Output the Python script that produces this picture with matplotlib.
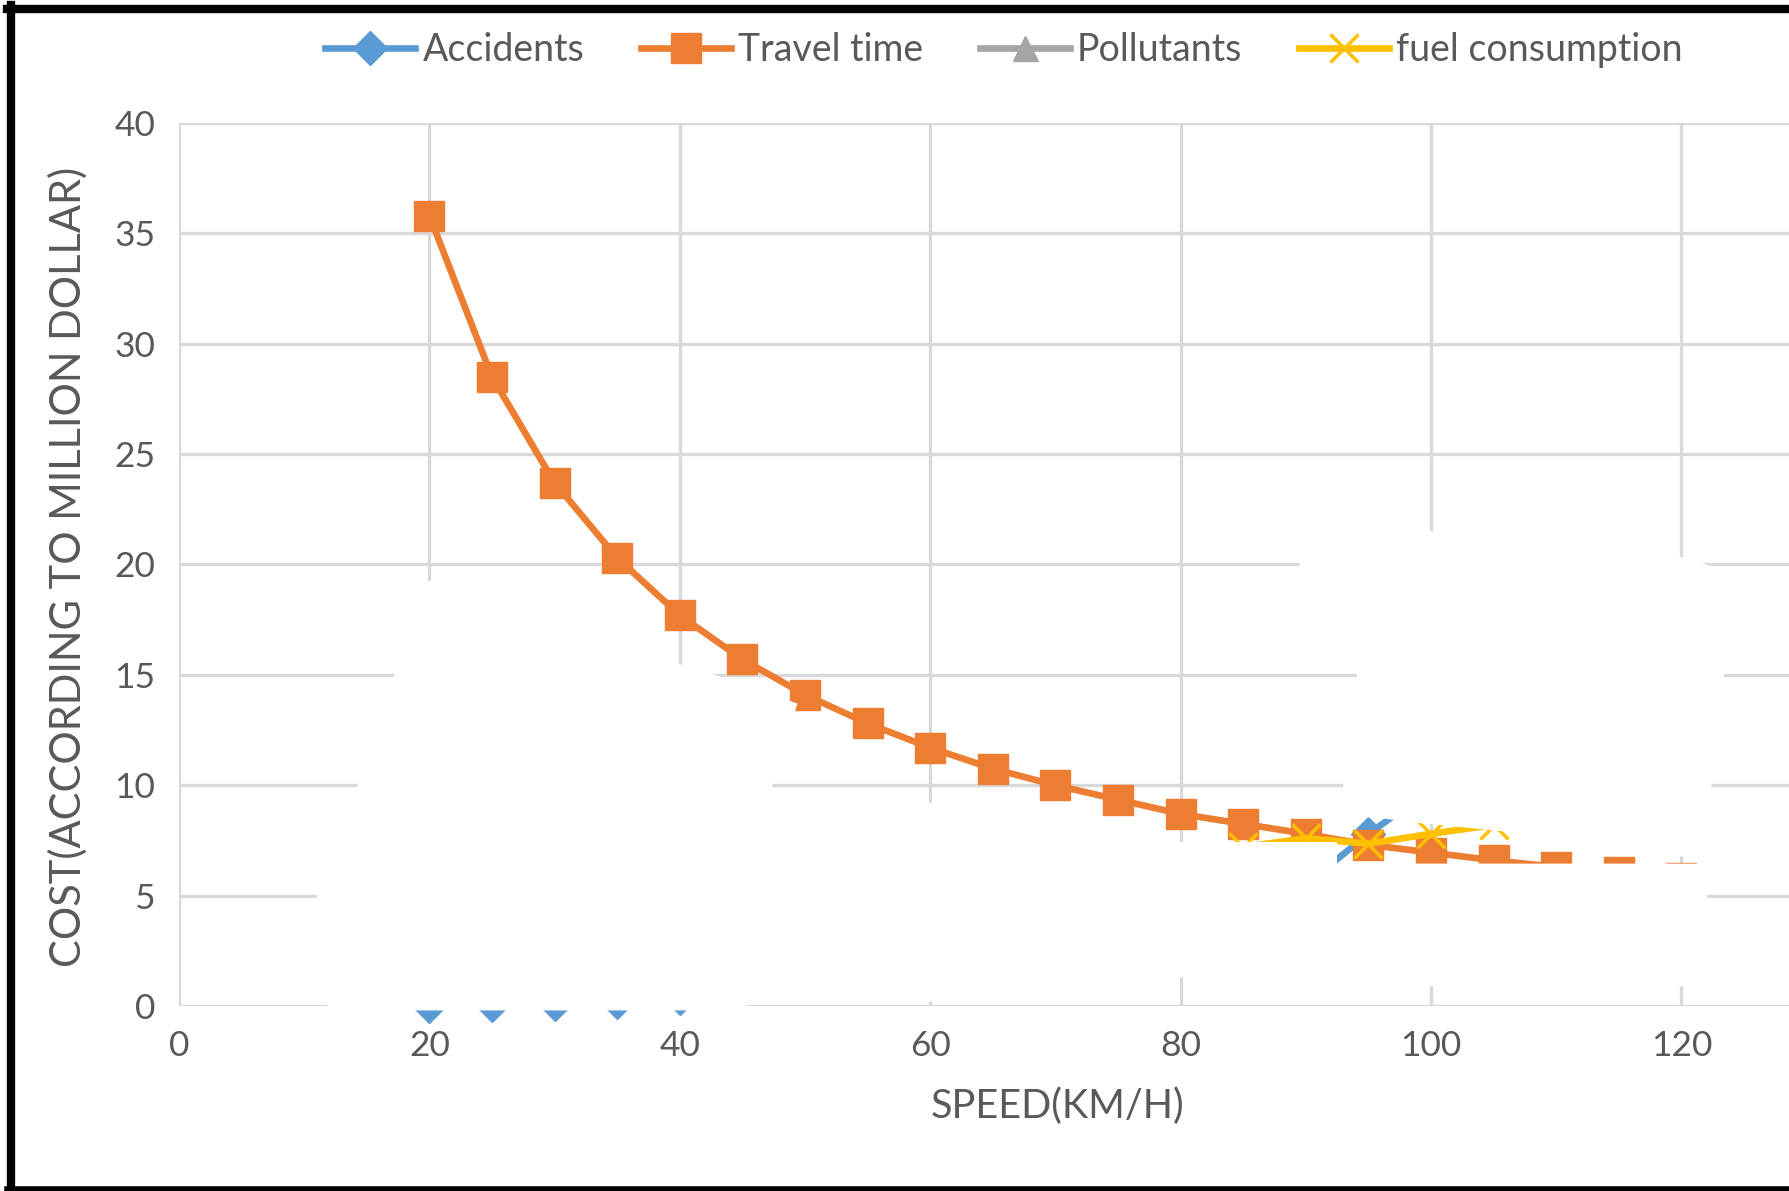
import matplotlib
matplotlib.use("Agg")
import matplotlib.pyplot as plt
import numpy as np
from matplotlib.lines import Line2D

nan = np.nan

# ---- data ----
speed = [20, 25, 30, 35, 40, 45, 50, 55, 60, 65, 70, 75, 80, 85, 90, 95, 100, 105, 110, 115, 120]
travel_time = [35.8, 28.5, 23.7, 20.3, 17.7, 15.7, 14.1, 12.8, 11.7, 10.75, 10.0, 9.35,
               8.7, 8.25, 7.8, 7.3, 6.95, 6.6, 6.3, 6.05, 5.8]
accidents = [0.0, 0.05, 0.1, 0.2, 0.35, nan, nan, nan, nan, nan, nan, nan,
             nan, nan, 5.5, 7.8, 9.8, nan, nan, nan, nan]
fuel_consumption = [nan, nan, nan, nan, nan, nan, nan, nan, nan, nan, nan, nan,
                    nan, 7.2, 7.6, 7.35, 7.8, 8.2, nan, nan, nan]
pollutants_speed = []
pollutants = []

series_names = ["Accidents", "Travel time", "Pollutants", "fuel consumption"]
x_ticks = [0, 20, 40, 60, 80, 100, 120]
y_ticks = [0, 5, 10, 15, 20, 25, 30, 35, 40]

# ---- style ----
plt.rcParams['font.family'] = ['Lato', 'DejaVu Sans']
txt = '#595959'
grid_c = '#d9d9d9'
c_acc, c_tt, c_pol, c_fuel = '#5B9BD5', '#ED7D31', '#A5A5A5', '#FFC000'

W, H = 1789, 1191
fig = plt.figure(figsize=(W / 100, H / 100), dpi=100)
ax = fig.add_axes([179 / W, 1 - 1006 / H, (W - 179) / W, (1006 - 123) / H])

ax.plot(speed, accidents, color=c_acc, lw=4.8, marker='D', ms=17,
        label=series_names[0], zorder=3, clip_on=False)
ax.plot(speed, travel_time, color=c_tt, lw=4.8, marker='s', ms=22,
        label=series_names[1], zorder=3.1, clip_on=False)
ax.plot(pollutants_speed, pollutants, color=c_pol, lw=4.8, marker='^', ms=18,
        label=series_names[2], zorder=3.2)
ax.plot(speed, fuel_consumption, color=c_fuel, lw=4.8, marker='x', ms=20, mew=2.5,
        label=series_names[3], zorder=3.3, clip_on=False)

ax.set_xlim(0, 128.6)
ax.set_ylim(0, 40)
ax.set_xticks(x_ticks)
ax.set_yticks(y_ticks)
ax.grid(True, color=grid_c, lw=2.4)
ax.set_axisbelow(True)
for s in ax.spines.values():
    s.set_visible(False)
ax.tick_params(length=0, labelsize=25.5, colors=txt, pad=17)

ax.set_xlabel("SPEED(KM/H)", fontsize=28.5, color=txt)
ax.xaxis.set_label_coords((1058 - 179) / (W - 179), -(1087 - 1006) / (1006 - 123))
ax.set_ylabel("COST(ACCORDING TO MILLION DOLLAR)", fontsize=30, color=txt)
ax.yaxis.set_label_coords((88 - 179) / (W - 179), 0.497)

# white erased areas of the original picture
mask_a = [(11.9, -0.2), (11.0, 5.0), (14.3, 10.0), (17.2, 15.0), (19.6, 19.2), (21, 19.4),
          (34, 19.4), (36.5, 18.6), (39.9, 15.5), (42.5, 15.05), (45, 14.6), (49.4, 13.7),
          (47.4, 10.0), (47.4, 9.6), (60, 9.2), (80, 7.43), (92.5, 7.43), (92.5, 6.45),
          (122, 6.45), (122.2, 0.9), (85, 0.9), (81.5, 1.3), (78.5, 1.3), (75, 0.25),
          (46, 0.15), (44, -0.2)]
mask_b = [(89.5, 20.1), (95, 21.0), (100, 21.5), (110, 21.2), (119.5, 20.4), (121.5, 20.1),
          (123.4, 19.7), (123.4, 15.0), (122.4, 10.0), (122.2, 6.6), (106, 7.9), (98, 8.35),
          (95.5, 8.55), (93, 8.5), (93, 10.0), (94.1, 15.0), (89.5, 20.0)]
for m in (mask_a, mask_b):
    ax.add_patch(plt.Polygon(m, closed=True, facecolor='white', edgecolor='none',
                             zorder=5, clip_on=False))

handles, labels = ax.get_legend_handles_labels()
leg = fig.legend(handles, labels, loc='center', bbox_to_anchor=(1004 / W, 1 - 50 / H),
                 ncol=4, frameon=False, fontsize=27, handlelength=2.4,
                 handletextpad=0.2, columnspacing=1.5, labelcolor=txt)

# black frame of the picture
fig.add_artist(Line2D([11 / W, 11 / W], [0, 1 - 5 / H], transform=fig.transFigure,
                      color='black', lw=6))
fig.add_artist(Line2D([7 / W, 1], [1 - 9 / H, 1 - 9 / H], transform=fig.transFigure,
                      color='black', lw=6))
fig.add_artist(Line2D([7 / W, 1], [2 / H, 2 / H], transform=fig.transFigure,
                      color='black', lw=4))

fig.savefig("out.png", dpi=100)
